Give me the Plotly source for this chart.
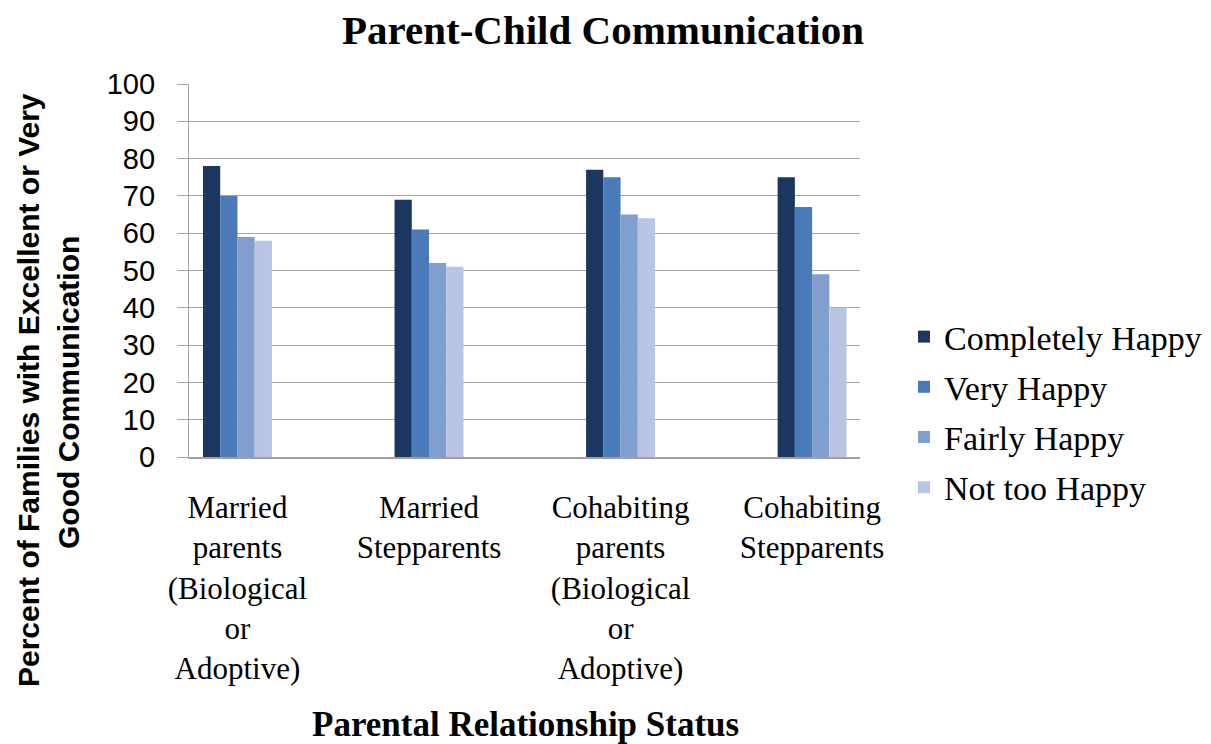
import plotly.graph_objects as go

categories = ["Married<br>parents<br>(Biological<br>or<br>Adoptive)",
              "Married<br>Stepparents",
              "Cohabiting<br>parents<br>(Biological<br>or<br>Adoptive)",
              "Cohabiting<br>Stepparents"]
series_names = ["Completely Happy", "Very Happy", "Fairly Happy", "Not too Happy"]
completely_happy = [78, 69, 77, 75]
very_happy = [70, 61, 75, 67]
fairly_happy = [59, 52, 65, 49]
not_too_happy = [58, 51, 64, 40]
y_ticks = [0, 10, 20, 30, 40, 50, 60, 70, 80, 90, 100]

colors = ["#1B365F", "#4A7AB7", "#809FCF", "#B9C5E3"]
values = [completely_happy, very_happy, fairly_happy, not_too_happy]

serif = "Liberation Serif, Times New Roman, serif"
sans = "Liberation Sans, Arial, sans-serif"

fig = go.Figure()
for name, vals, col in zip(series_names, values, colors):
    fig.add_trace(go.Bar(x=categories, y=vals, name=name, marker_color=col,
                         marker_line_width=0, legendgroup=name))

# page geometry (the html body adds an 8px margin)
OFF = 8
PW, PH = 1211, 744
W, H = PW - OFF, PH - OFF
L, R, T, B = 189, 860, 84, 457  # plot area in page pixels


def px(xp):
    return (xp - L) / (R - L)


def py(yp):
    return (B - yp) / (B - T)


fig.update_layout(
    width=W, height=H,
    margin=dict(l=L - OFF, r=W - (R - OFF), t=T - OFF, b=H - (B - OFF), autoexpand=False),
    paper_bgcolor="white", plot_bgcolor="white",
    barmode="group", bargap=0.64, bargroupgap=0,
    title=dict(text="<b>Parent-Child Communication</b>", xref="container",
               x=(603 - OFF) / W, xanchor="center",
               yref="container", y=1 - (30 - OFF) / H, yanchor="middle",
               font=dict(family=serif, size=41, color="black")),
    legend=dict(x=px(904), xanchor="left", y=py(412), yanchor="middle",
                font=dict(family=serif, size=34, color="black"),
                tracegroupgap=3, itemwidth=30, bgcolor="rgba(0,0,0,0)"),
    xaxis=dict(range=[-0.253, 3.25], showgrid=False, showline=True,
               linecolor="#A0A0A0", linewidth=1.5, ticks="",
               tickfont=dict(family=serif, size=31, color="black"),
               ticklabelstandoff=22),
    yaxis=dict(range=[0, 100], tickvals=y_ticks, showgrid=True,
               gridcolor="#A6A6A6", gridwidth=1.3, showline=True,
               linecolor="#A6A6A6", linewidth=1.3, ticks="outside",
               ticklen=11, tickcolor="#A6A6A6", tickwidth=1.3,
               tickfont=dict(family=sans, size=29, color="black"),
               ticklabelstandoff=16, zeroline=False),
    annotations=[
        dict(text="<b>Parental Relationship Status</b>", xref="paper", yref="paper",
             x=px(525), y=py(724), xanchor="center", yanchor="middle",
             showarrow=False, font=dict(family=serif, size=35, color="black")),
        dict(text="<b>Percent of Families with Excellent or Very</b>",
             xref="paper", yref="paper", x=px(28), y=py(390),
             xanchor="center", yanchor="middle", textangle=-90, showarrow=False,
             font=dict(family=sans, size=30, color="black")),
        dict(text="<b>Good Communication</b>",
             xref="paper", yref="paper", x=px(68), y=py(393),
             xanchor="center", yanchor="middle", textangle=-90, showarrow=False,
             font=dict(family=sans, size=30, color="black")),
    ],
)

fig.write_html("out.html")
